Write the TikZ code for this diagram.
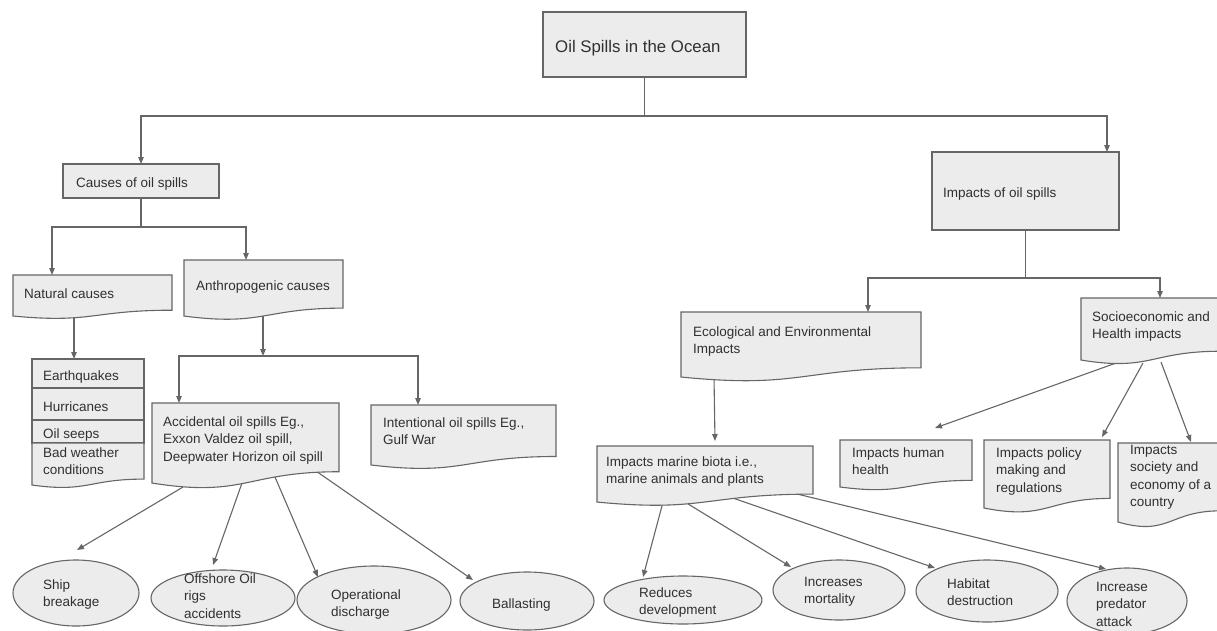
\documentclass[tikz,border=0pt]{standalone}
\usepackage{fontspec}
\setmainfont{Liberation Sans}
\usetikzlibrary{arrows.meta,calc,shapes.geometric}
\pgfdeclarelayer{bg}
\pgfsetlayers{bg,main}
\definecolor{boxfill}{HTML}{ECECEC}
\definecolor{edge}{HTML}{666666}
\definecolor{ink}{HTML}{303030}
\tikzset{
  boxshape/.style={draw=edge, fill=boxfill, line width=1.1pt},
  hold/.style={inner sep=0pt, outer sep=0pt, anchor=north west},
  lbl/.style={anchor=base west, inner sep=0pt, text=ink, align=left, font=\fontsize{13.5}{17.5}\selectfont},
  conn/.style={draw=edge, line width=1.1pt},
  arr/.style={conn, -{Triangle[length=7pt,width=5.5pt]}},
  oval/.style={ellipse, draw=edge, fill=boxfill, line width=1.1pt, inner sep=0pt, outer sep=0pt},
}
% rectangle box: name x1 y1 x2 y2
\newcommand\rbox[5]{%
  \node[hold, boxshape, minimum width={#4-#2}, minimum height={#5-#3}] (#1) at (#2,#3) {};}
% document box (wavy bottom): name x1 y1 x2 h
\newcommand\dbox[5]{%
  \path[boxshape] (#2,#3) -- (#4,#3) -- (#4,{#3+0.802*#5})
    .. controls ({(#2+#4)/2},{#3+0.802*#5}) and ({(#2+#4)/2},{#3+1.107*#5}) .. (#2,{#3+0.934*#5}) -- cycle;
  \node[hold, minimum width={#4-#2}, minimum height={0.934*#5}] (#1) at (#2,#3) {};}
\begin{document}
\begin{tikzpicture}[x=1pt,y=-1pt]
\useasboundingbox (0,0) rectangle (1217,630);

% ---- boxes ----
\rbox{title}{543}{12}{746}{77}
\rbox{causes}{63}{164}{219}{198}
\rbox{imp}{932}{152}{1119}{230}
\dbox{nat}{13}{275}{172}{43.9}
\dbox{anth}{184}{260}{343}{60}
\rbox{eq}{32}{359}{144}{388}
\rbox{hur}{32}{388}{144}{420}
\rbox{seep}{32}{420}{144}{443}
\dbox{bad}{32}{443}{144}{45}
\dbox{acc}{152}{403}{339}{85.7}
\dbox{int}{371}{405}{556}{64.2}
\dbox{eco}{681}{312}{921}{69.6}
\dbox{soc}{1081}{298}{1220}{66.4}
\dbox{mar}{597}{446}{813}{60}
\dbox{hum}{840}{440}{972}{50.3}
\dbox{pol}{984}{440}{1110}{72.8}
\dbox{soctwo}{1118}{443}{1220}{84.6}

% ---- ellipses ----
\node[oval, minimum width=126pt, minimum height=66pt] (ship) at (76,593) {};
\node[oval, minimum width=144pt, minimum height=56pt] (off) at (223,598) {};
\node[oval, minimum width=154pt, minimum height=68pt] (op) at (374,600) {};
\node[oval, minimum width=134pt, minimum height=58pt] (ball) at (527,601) {};
\node[oval, minimum width=158pt, minimum height=48pt] (red) at (683,600) {};
\node[oval, minimum width=132pt, minimum height=60pt] (mort) at (839,590) {};
\node[oval, minimum width=142pt, minimum height=62pt] (hab) at (987,591) {};
\node[oval, minimum width=120pt, minimum height=66pt] (pred) at (1127,601) {};

% ---- texts (anchor = baseline of the last line) ----
\node[lbl, font=\fontsize{16.8}{20}\selectfont] (title-t) at (555,52) {Oil Spills in the Ocean};
\node[lbl] (causes-t) at (76,187) {Causes of oil spills};
\node[lbl] (imp-t) at (943,197) {Impacts of oil spills};
\node[lbl] (nat-t) at (24,298) {Natural causes};
\node[lbl] (anth-t) at (196,290) {Anthropogenic causes};
\node[lbl] (eq-t) at (43,380) {Earthquakes};
\node[lbl] (hur-t) at (43,411) {Hurricanes};
\node[lbl] (seep-t) at (43,438) {Oil seeps};
\node[lbl] (bad-t) at (43,474.5) {Bad weather\\conditions};
\node[lbl] (acc-t) at (163,461) {Accidental oil spills Eg.,\\Exxon Valdez oil spill,\\Deepwater Horizon oil spill};
\node[lbl] (int-t) at (383,444.5) {Intentional oil spills Eg.,\\Gulf War};
\node[lbl] (ship-t) at (43,606.5) {Ship\\breakage};
\node[lbl] (off-t) at (184,618) {Offshore Oil\\rigs\\accidents};
\node[lbl] (op-t) at (331,616.5) {Operational\\discharge};
\node[lbl] (ball-t) at (492,608) {Ballasting};
\node[lbl] (eco-t) at (693,353.5) {Ecological and Environmental\\Impacts};
\node[lbl] (soc-t) at (1092,338.5) {Socioeconomic and\\Health impacts};
\node[lbl] (mar-t) at (606,483.5) {Impacts marine biota i.e.,\\marine animals and plants};
\node[lbl] (hum-t) at (852,474.5) {Impacts human\\health};
\node[lbl] (pol-t) at (996,492) {Impacts policy\\making and\\regulations};
\node[lbl] (soctwo-t) at (1130,506.5) {Impacts\\society and\\economy of a\\country};
\node[lbl] (red-t) at (639,614.5) {Reduces\\development};
\node[lbl] (mort-t) at (804,603.5) {Increases\\mortality};
\node[lbl] (hab-t) at (947,605.5) {Habitat\\destruction};
\node[lbl] (pred-t) at (1096,626) {Increase\\predator\\attack};

% ---- connectors ----
\begin{pgfonlayer}{bg}
\draw[conn] (title.south) -- ++(0,39) coordinate (j0);
\draw[arr] (j0) -| (causes.north);
\draw[arr] (j0) -| ([xshift=-12pt]imp.north east);

\draw[conn] (causes.south) -- ++(0,29) coordinate (j1);
\draw[arr] (j1) -| ([xshift=39pt]nat.north west);
\draw[arr] (j1) -| ([xshift=62pt]anth.north west);

\draw[arr] ([xshift=61pt]nat.south west) -- ([xshift=42pt]eq.north west);

\coordinate (j2) at (263,356);
\draw[arr] ([xshift=79pt]anth.south west) -- (j2);
\draw[arr] (j2) -| ([xshift=27pt]acc.north west);
\draw[arr] (j2) -| ([xshift=47pt]int.north west);

\draw[arr] ($(acc.south west)+(31,4)$) -- ($(ship.north)+(1,-10)$);
\draw[arr] ($(acc.south west)+(90,0)$) -- ($(off.north)+(-10,-5)$);
\draw[arr] ($(acc.south west)+(123,-6)$) -- ($(op.center)+(-56,-23)$);
\draw[arr] ($(acc.south west)+(164,-12)$) -- ($(ball.center)+(-54,-21)$);

\draw[conn] (imp.south) -- ++(0,48) coordinate (j3);
\draw[arr] (j3) -| ([xshift=187pt]eco.north west);
\draw[arr] (j3) -| ([xshift=79pt]soc.north west);

\draw[arr] ([xshift=33pt]eco.south west) -- ([xshift=118pt,yshift=5pt]mar.north west);

\draw[arr] ($(soc.south west)+(35,3)$) -- ($(hum.north west)+(95,-12)$);
\draw[arr] ($(soc.south west)+(62,3)$) -- ($(pol.north west)+(118,-3)$);
\draw[arr] ($(soc.south west)+(80,2)$) -- ($(soctwo.north west)+(73,-1)$);

\draw[arr] ($(mar.south west)+(66,0)$) -- ($(red.center)+(-40,-23)$);
\draw[arr] ($(mar.south west)+(88,0)$) -- ($(mort.center)+(-48,-23)$);
\draw[arr] ($(mar.south west)+(133,-5)$) -- ($(hab.center)+(-52,-23)$);
\draw[arr] ($(mar.south west)+(192,-10)$) -- ($(pred.center)+(-21,-32)$);
\end{pgfonlayer}
\end{tikzpicture}
\end{document}
